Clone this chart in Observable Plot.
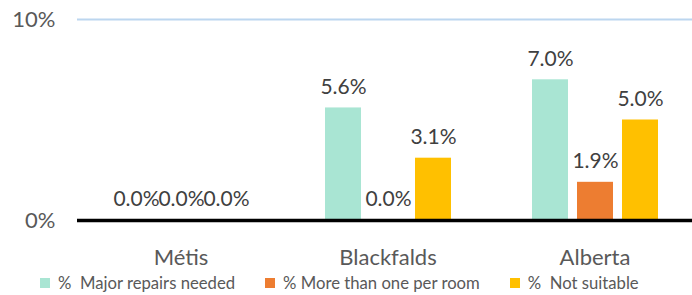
<!DOCTYPE html>
<html>
<head>
<meta charset="utf-8">
<script src="https://cdn.jsdelivr.net/npm/d3@7"></script>
<script src="https://cdn.jsdelivr.net/npm/@observablehq/plot@0.6"></script>
<style>
  html, body { margin: 0; padding: 0; background: #fff; }
  body { width: 692px; height: 295px; overflow: hidden; font-family: Lato, sans-serif; color: #595959; }
  #legend { display: flex; align-items: center; height: 25px; padding-left: 40px; font-size: 16.7px; white-space: pre; }
  .item { display: flex; align-items: center; margin-right: 30px; }
  .sw { width: 10px; height: 10px; margin-right: 8px; }
</style>
</head>
<body>
<div id="chart"></div>
<div id="legend"></div>
<script>
const categories = ["Métis", "Blackfalds", "Alberta"];
const seriesNames = ["%  Major repairs needed", "% More than one per room", "%  Not suitable"];
const seriesColors = ["#a9e5d3", "#ed7d31", "#ffc000"];
const majorRepairs = [0.0, 5.6, 7.0];
const moreThanOnePerRoom = [0.0, 0.0, 1.9];
const notSuitable = [0.0, 3.1, 5.0];
const yTicks = [0, 10];

const seriesValues = [majorRepairs, moreThanOnePerRoom, notSuitable];
const rows = [];
categories.forEach((c, i) => {
  seriesNames.forEach((s, j) => rows.push({category: c, series: s, value: seriesValues[j][i]}));
});

const chart = Plot.plot({
  width: 692,
  height: 270,
  marginLeft: 77,
  marginRight: -6,
  marginTop: 19,
  marginBottom: 50,
  style: {fontFamily: "Lato, sans-serif", color: "#595959", background: "#fff"},
  fx: {domain: categories, padding: 0, label: null},
  x: {domain: seriesNames, paddingInner: 0.21, paddingOuter: 0.88, axis: null},
  y: {domain: [0, 10], label: null},
  color: {domain: seriesNames, range: seriesColors},
  marks: [
    Plot.ruleY([10], {stroke: "#bcd6ef", strokeWidth: 2}),
    Plot.barY(rows, {fx: "category", x: "series", y: "value", fill: "series"}),
    Plot.ruleY([0], {stroke: "#000", strokeWidth: 3.5}),
    Plot.text(rows, {fx: "category", x: "series", y: "value", text: d => d.value.toFixed(1) + "%", dy: -21, fontSize: 21, fill: "#404040"}),
    Plot.axisY({ticks: yTicks, tickSize: 0, tickPadding: 22, tickFormat: d => d + "%", fontSize: 22, label: null}),
    Plot.axisFx({anchor: "bottom", tickSize: 0, tickPadding: 29, fontSize: 22, label: null})
  ]
});
document.getElementById("chart").appendChild(chart);

const legend = document.getElementById("legend");
seriesNames.forEach((s, i) => {
  const item = document.createElement("div");
  item.className = "item";
  const sw = document.createElement("div");
  sw.className = "sw";
  sw.style.background = seriesColors[i];
  const t = document.createElement("span");
  t.textContent = s;
  item.appendChild(sw);
  item.appendChild(t);
  legend.appendChild(item);
});
</script>
</body>
</html>
